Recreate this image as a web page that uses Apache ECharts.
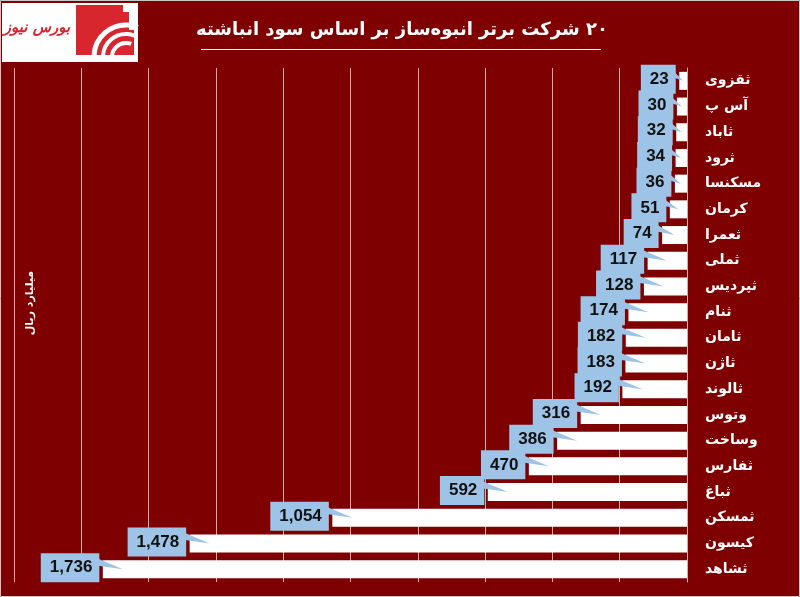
<!DOCTYPE html>
<html>
<head>
<meta charset="utf-8">
<script src="https://cdn.jsdelivr.net/npm/echarts@6/dist/echarts.min.js"></script>
<style>
html,body{margin:0;padding:0;background:#7f0000;}
#c{width:800px;height:597px;}
</style>
</head>
<body>
<div id="c"></div>
<script>
const categories = ['ثقزوی','آس پ','ثاباد','ثرود','مسکنسا','کرمان','ثعمرا','ثملی','ثپردیس','ثنام','ثامان','ثاژن','ثالوند','وتوس','وساخت','ثفارس','ثباغ','ثمسکن','کیسون','ثشاهد'];
const values = [23,30,32,34,36,51,74,117,128,174,182,183,192,316,386,470,592,1054,1478,1736];
const titleText = '\u200F۲۰ شرکت برتر انبوه‌ساز بر اساس سود انباشته';
const unitText = 'میلیارد ریال';
const logoText = 'بورس نیوز';

const BG = '#7f0000';
const CALLOUT = '#9dc3e6';
const LOGO_RED = '#d7262e';
const fmt = v => v.toLocaleString('en-US');

const chart = echarts.init(document.getElementById('c'), null, {renderer:'canvas'});

const calloutData = values.map((v, i) => [v, i]);

const option = {
  backgroundColor: BG,
  animation: false,
  grid: {left: 14, right: 113, top: 68, bottom: 15, containLabel: false},
  xAxis: {
    type: 'value', inverse: true, min: 0, max: 2000, interval: 200,
    axisLabel: {show: false}, axisTick: {show: false}, axisLine: {show: false},
    splitLine: {show: true, lineStyle: {color: '#d2acac', width: 1}}
  },
  yAxis: {
    type: 'category', inverse: true, position: 'right', data: categories,
    axisTick: {show: false},
    axisLine: {show: true, lineStyle: {color: '#d2acac', width: 1}},
    axisLabel: {color: '#ffffff', fontWeight: 'bold', fontSize: 14, fontFamily: 'DejaVu Sans', align: 'left', margin: 18}
  },
  series: [
    {
      type: 'bar', data: values, barWidth: '70%', silent: true,
      itemStyle: {color: '#ffffff'}
    },
    {
      type: 'custom', data: calloutData, silent: true, z: 5,
      encode: {x: 0, y: 1},
      renderItem: function (params, api) {
        const v = api.value(0), c = api.value(1);
        const p = api.coord([v, c]);
        const p0 = api.coord([0, c]);
        const x = p[0], y = p[1];
        const tipX = Math.min(x + 20, (x + p0[0]) / 2);
        return {
          type: 'group',
          children: [
            {type: 'polygon', shape: {points: [[x - 8, y - 12], [x - 8, y - 4], [tipX, y]]}, style: {fill: CALLOUT}},
            {type: 'text', style: {
              text: fmt(v), x: x - 3.5, y: y - 1.5, align: 'right', verticalAlign: 'middle',
              fontFamily: 'Liberation Sans', fontWeight: 'bold', fontSize: 17, fill: '#111111',
              backgroundColor: CALLOUT, padding: [5, 7, 4, 9], lineHeight: 20
            }}
          ]
        };
      }
    }
  ],
  graphic: [
    {type: 'rect', shape: {x: 0.5, y: 0.5, width: 799, height: 596}, style: {fill: 'none', stroke: '#c8c8c8', lineWidth: 1}, z: 100},
    {type: 'text', x: 402, y: 30, style: {text: titleText, align: 'center', verticalAlign: 'middle', fill: '#ffffff', fontFamily: 'DejaVu Sans', fontWeight: 'bold', fontSize: 18}},
    {type: 'line', shape: {x1: 201, y1: 49.5, x2: 601, y2: 49.5}, style: {stroke: '#ffffff', lineWidth: 1}},
    {type: 'text', x: 30.5, y: 303, rotation: Math.PI / 2, style: {text: unitText, align: 'center', verticalAlign: 'middle', fill: '#ffffff', fontFamily: 'DejaVu Sans', fontWeight: 'bold', fontSize: 11}},
    // logo
    {type: 'group', children: [
      {type: 'rect', shape: {x: 2, y: 3, width: 136, height: 59}, style: {fill: '#ffffff'}},
      {type: 'rect', shape: {x: 76, y: 5, width: 47, height: 50}, style: {fill: LOGO_RED}},
      {type: 'rect', shape: {x: 123, y: 12, width: 6, height: 43}, style: {fill: LOGO_RED}},
      {type: 'rect', shape: {x: 129, y: 30, width: 5, height: 25}, style: {fill: LOGO_RED}},
      {type: 'arc', shape: {cx: 126, cy: 57, r: 32, startAngle: Math.PI * 1.02, endAngle: Math.PI * 1.62}, style: {stroke: '#ffffff', lineWidth: 5, fill: 'none'}},
      {type: 'arc', shape: {cx: 126, cy: 57, r: 23, startAngle: Math.PI * 1.02, endAngle: Math.PI * 1.62}, style: {stroke: '#ffffff', lineWidth: 4, fill: 'none'}},
      {type: 'arc', shape: {cx: 126, cy: 57, r: 14, startAngle: Math.PI * 1.02, endAngle: Math.PI * 1.62}, style: {stroke: '#ffffff', lineWidth: 4, fill: 'none'}},
      {type: 'rect', shape: {x: 76, y: 55, width: 60, height: 7}, style: {fill: '#ffffff'}},
      {type: 'text', x: 37, y: 28, style: {text: logoText, align: 'center', verticalAlign: 'middle', fill: LOGO_RED, fontFamily: 'DejaVu Sans', fontWeight: 'bold', fontStyle: 'italic', fontSize: 15}}
    ]}
  ]
};
chart.setOption(option);
</script>
</body>
</html>
